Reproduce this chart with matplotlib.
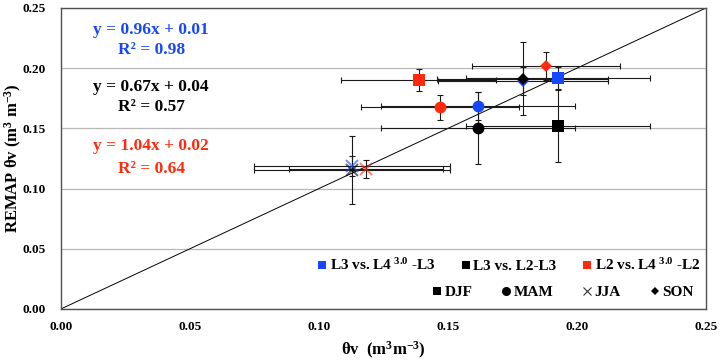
import matplotlib
matplotlib.use('Agg')
import matplotlib.pyplot as plt
from matplotlib.lines import Line2D

plt.rcParams['font.family'] = ['Liberation Serif', 'DejaVu Serif']
plt.rcParams['font.weight'] = 'bold'
plt.rcParams['mathtext.fontset'] = 'custom'
plt.rcParams['mathtext.rm'] = 'Liberation Serif:bold'
plt.rcParams['mathtext.bf'] = 'Liberation Serif:bold'
plt.rcParams['mathtext.it'] = 'Liberation Serif:bold'

# seasons: DJF, MAM, JJA, SON
seasons = ['DJF', 'MAM', 'JJA', 'SON']
season_markers = ['s', 'o', 'x', 'D']

# L3 vs. L4(3.0)-L3
blue_x = [0.1925, 0.1615, 0.1127, 0.1790]
blue_y = [0.1917, 0.1685, 0.1190, 0.1897]
blue_xerr = [0.0357, 0.0376, 0.0379, 0.0330]
blue_yerr = [0.0091, 0.0116, 0.0083, 0.0116]

# L3 vs. L2-L3
black_x = [0.1925, 0.1615, 0.1129, 0.1790]
black_y = [0.1516, 0.1501, 0.1157, 0.1911]
black_xerr = [0.0357, 0.0376, 0.0379, 0.0331]
black_yerr = [0.0299, 0.0300, 0.0282, 0.0303]

# L2 vs. L4(3.0)-L2
red_x = [0.1386, 0.1470, 0.1182, 0.1879]
red_y = [0.1903, 0.1677, 0.1163, 0.2019]
red_xerr = [0.0302, 0.0306, 0.0297, 0.0287]
red_yerr = [0.0091, 0.0104, 0.0073, 0.0118]

series_labels = [r'L3 vs. L4$^{\ 3.0}$ -L3', 'L3 vs. L2-L3', r'L2 vs. L4$^{\ 3.0}$ -L2']
series_colors = ['#1447FF', '#000000', '#FF2A0E']

equations = ['y = 0.96x + 0.01', 'y = 0.67x + 0.04', 'y = 1.04x + 0.02']
r2_labels = ['R² = 0.98', 'R² = 0.57', 'R² = 0.64']
eq_y = [0.2318, 0.1847, 0.1350]
r2_y = [0.2152, 0.1677, 0.1163]

fig = plt.figure(figsize=(7.23, 3.63), dpi=100)
ax = fig.add_axes([0.0844, 0.149, 0.892, 0.829])

ax.set_xlim(0, 0.25)
ax.set_ylim(0, 0.25)
ax.set_xticks([0, 0.05, 0.10, 0.15, 0.20, 0.25])
ax.set_yticks([0, 0.05, 0.10, 0.15, 0.20, 0.25])
ax.set_xticklabels(['%.2f' % v for v in ax.get_xticks()])
ax.set_yticklabels(['%.2f' % v for v in ax.get_yticks()])
ax.tick_params(axis='x', length=0, labelsize=9.5, pad=9)
ax.tick_params(axis='y', length=0, labelsize=9.5, pad=11)
for lab in ax.get_xticklabels() + ax.get_yticklabels():
  lab.set_fontweight('bold')
ax.yaxis.grid(True, color='#b8b8b8', linewidth=0.9)
ax.set_axisbelow(True)
for sp in ax.spines.values():
  sp.set_color('#505050')
  sp.set_linewidth(1.0)

# 1:1 line
ax.plot([0, 0.25], [0, 0.25], color='black', linewidth=0.7, zorder=2)

all_series = [
  (blue_x, blue_y, blue_xerr, blue_yerr),
  (black_x, black_y, black_xerr, black_yerr),
  (red_x, red_y, red_xerr, red_yerr),
]

for (xs, ys, xe, ye), color in zip(all_series, series_colors):
  ax.errorbar(xs, ys, xerr=xe, yerr=ye, fmt='none', ecolor='#1a1a1a',
              elinewidth=0.8, capsize=2.2, capthick=0.8, zorder=3)

for (xs, ys, xe, ye), color in zip(all_series, series_colors):
  for i, m in enumerate(season_markers):
    if m == 'x':
      ax.plot(xs[i], ys[i], marker='x', markersize=9, markeredgewidth=1.4,
              color=color, alpha=0.6, linestyle='none', zorder=4)
    else:
      size = {'s': 9, 'o': 8.5, 'D': 6.5}[m]
      ax.plot(xs[i], ys[i], marker=m, markersize=size, color=color,
              markeredgewidth=0, linestyle='none', zorder=4)

# regression equations
for eq, r2, ey, ry, color in zip(equations, r2_labels, eq_y, r2_y, series_colors):
  ax.text(0.035, ey, eq, color=color, fontsize=12.5, fontweight='bold',
          ha='center', va='center')
  ax.text(0.035, ry, r2, color=color, fontsize=12.5, fontweight='bold',
          ha='center', va='center')

ax.set_xlabel(r'θv  (m$^{3}$m$^{-3}$)', fontsize=12, fontweight='bold', labelpad=5)
ax.set_ylabel(r'REMAP θv (m$^{3}$ m$^{-3}$)', fontsize=12, fontweight='bold')
ax.yaxis.set_label_coords(-0.058, 0.5)

# legends
series_handles = [Line2D([], [], marker='s', color=c, linestyle='none',
                         markersize=6, markeredgewidth=0) for c in series_colors]
leg1 = ax.legend(series_handles, series_labels, ncol=3, loc='center right',
                 bbox_to_anchor=(1.005, 0.145), frameon=False, fontsize=11,
                 handlelength=0.6, handletextpad=0.2, columnspacing=1.7,
                 borderpad=0.1)
for t in leg1.get_texts():
  t.set_fontweight('bold')
ax.add_artist(leg1)

season_handles = []
for m in season_markers:
  if m == 'x':
    season_handles.append(Line2D([], [], marker='x', color='#333333', linestyle='none',
                                 markersize=6, markeredgewidth=0.8))
  else:
    size = {'s': 6, 'o': 6.5, 'D': 4.5}[m]
    season_handles.append(Line2D([], [], marker=m, color='black', linestyle='none',
                                 markersize=size, markeredgewidth=0))
leg2 = ax.legend(season_handles, seasons, ncol=4, loc='center right',
                 bbox_to_anchor=(0.995, 0.055), frameon=False, fontsize=11,
                 handlelength=0.6, handletextpad=0.2, columnspacing=1.9,
                 borderpad=0.1)
for t in leg2.get_texts():
  t.set_fontweight('bold')

plt.savefig('out.png', dpi=100)
plt.close()
